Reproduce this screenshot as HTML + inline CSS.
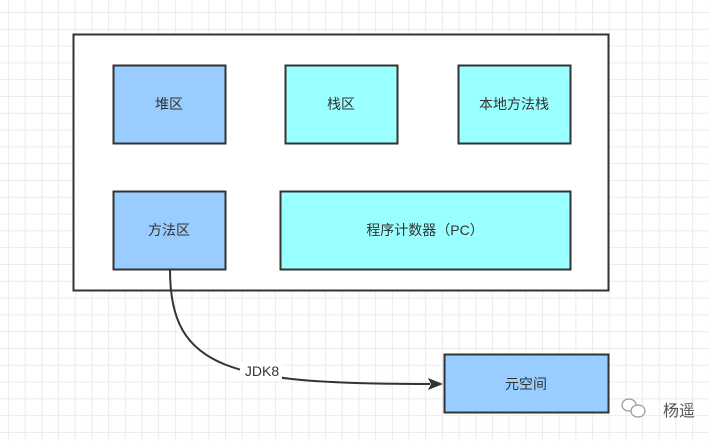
<!DOCTYPE html>
<html><head><meta charset="utf-8"><style>
body{margin:0;width:709px;height:441px;overflow:hidden;background:#fff;
background-image:linear-gradient(#ebebeb 1px,transparent 1px),linear-gradient(90deg,#ebebeb 1px,transparent 1px);
background-size:16.7px 16.8px;background-position:8px 12px;font-family:"Liberation Sans","Noto Sans CJK SC",sans-serif;}
svg{position:absolute;left:0;top:0}
</style></head><body>
<svg width="709" height="441" viewBox="0 0 709 441">
<rect x="73.5" y="34.5" width="535" height="256" fill="#fff" stroke="#333" stroke-width="2"/>
<g stroke="#333" stroke-width="2" fill="#333" text-anchor="middle">
<rect x="113.5" y="65.5" width="112" height="78" fill="#99ccff"/>
<rect x="285.5" y="65.5" width="112" height="78" fill="#99ffff"/>
<rect x="458.5" y="65.5" width="112" height="78" fill="#99ffff"/>
<rect x="113.5" y="191.5" width="112" height="78" fill="#99ccff"/>
<rect x="280.5" y="191.5" width="290" height="78" fill="#99ffff"/>
<rect x="444.5" y="354.5" width="164" height="58" fill="#99ccff"/>
<path d="M170 270 C170 370 230 384 430 384" fill="none"/>
<path d="M443 384 L428 378 L431 384 L428 390 Z" fill="#333" stroke="none"/>
</g>
<g font-size="14" fill="#333" text-anchor="middle">
<text x="169" y="109">堆区</text>
<text x="341" y="109">栈区</text>
<text x="514" y="109">本地方法栈</text>
<text x="169" y="235">方法区</text>
<text x="425" y="235">程序计数器（PC）</text>
<text x="526" y="389">元空间</text>
<rect x="240" y="362" width="42" height="17" fill="#fff"/>
<text x="262" y="376">JDK8</text>
<text x="679" y="416" font-size="16" fill="#555">杨遥</text>
</g>
<g fill="#fff" stroke="#999" stroke-width="1.2"><ellipse cx="629" cy="405" rx="7" ry="6"/><ellipse cx="638" cy="411" rx="7" ry="6"/></g>
</svg>
</body></html>
